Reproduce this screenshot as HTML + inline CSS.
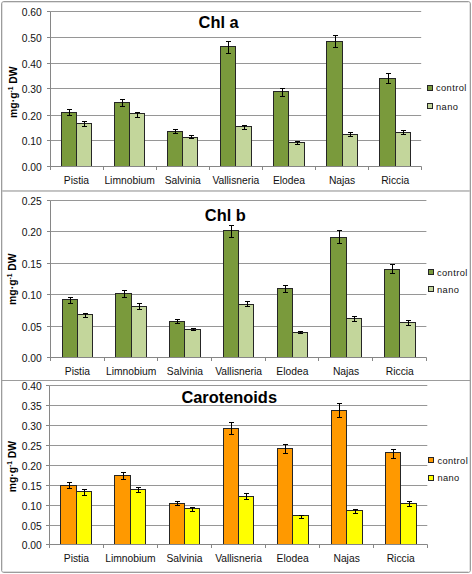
<!DOCTYPE html>
<html><head><meta charset="utf-8"><title>Chart</title>
<style>
html,body{margin:0;padding:0;background:#fff;}
body{width:472px;height:574px;overflow:hidden;}
svg{display:block;font-family:'Liberation Sans', sans-serif;}
</style></head>
<body>
<svg width="472" height="574" viewBox="0 0 472 574">
<rect x="0" y="0" width="472" height="574" fill="#fff"/>
<path d="M1.5 190V4Q1.5 1.5 4 1.5H468Q470.5 1.5 470.5 4V190" fill="none" stroke="#9C9C9C" stroke-width="1"/><path d="M1.5 190V570M470.5 190V570" fill="none" stroke="#9C9C9C" stroke-width="1"/><path d="M1.5 570Q1.5 572.5 4 572.5H468Q470.5 572.5 470.5 570" fill="none" stroke="#9C9C9C" stroke-width="1"/><path d="M2.5 3V570M3 2.5H468M469.5 3V570" fill="none" stroke="#E2E2E2" stroke-width="1"/><line x1="3" y1="571.5" x2="468" y2="571.5" stroke="#DDDDDD" stroke-width="1"/><line x1="2" y1="190.5" x2="470" y2="190.5" stroke="#C2C2C2" stroke-width="1"/><line x1="2" y1="191.5" x2="470" y2="191.5" stroke="#C6C6C6" stroke-width="1"/><line x1="2" y1="380.5" x2="470" y2="380.5" stroke="#9C9C9C" stroke-width="1"/>
<line x1="50.5" y1="11.5" x2="421.2" y2="11.5" stroke="#969696" stroke-width="1"/>
<line x1="47" y1="11.5" x2="50.5" y2="11.5" stroke="#868686" stroke-width="1"/>
<text x="41.8" y="16.2" text-anchor="end" font-size="10.3" fill="#111">0.60</text>
<line x1="50.5" y1="37.5" x2="421.2" y2="37.5" stroke="#969696" stroke-width="1"/>
<line x1="47" y1="37.5" x2="50.5" y2="37.5" stroke="#868686" stroke-width="1"/>
<text x="41.8" y="42.2" text-anchor="end" font-size="10.3" fill="#111">0.50</text>
<line x1="50.5" y1="63.5" x2="421.2" y2="63.5" stroke="#969696" stroke-width="1"/>
<line x1="47" y1="63.5" x2="50.5" y2="63.5" stroke="#868686" stroke-width="1"/>
<text x="41.8" y="68.2" text-anchor="end" font-size="10.3" fill="#111">0.40</text>
<line x1="50.5" y1="88.5" x2="421.2" y2="88.5" stroke="#969696" stroke-width="1"/>
<line x1="47" y1="88.5" x2="50.5" y2="88.5" stroke="#868686" stroke-width="1"/>
<text x="41.8" y="93.2" text-anchor="end" font-size="10.3" fill="#111">0.30</text>
<line x1="50.5" y1="115.5" x2="421.2" y2="115.5" stroke="#969696" stroke-width="1"/>
<line x1="47" y1="115.5" x2="50.5" y2="115.5" stroke="#868686" stroke-width="1"/>
<text x="41.8" y="120.2" text-anchor="end" font-size="10.3" fill="#111">0.20</text>
<line x1="50.5" y1="140.5" x2="421.2" y2="140.5" stroke="#969696" stroke-width="1"/>
<line x1="47" y1="140.5" x2="50.5" y2="140.5" stroke="#868686" stroke-width="1"/>
<text x="41.8" y="145.2" text-anchor="end" font-size="10.3" fill="#111">0.10</text>
<line x1="47" y1="166.5" x2="50.5" y2="166.5" stroke="#868686" stroke-width="1"/>
<text x="41.8" y="171.2" text-anchor="end" font-size="10.3" fill="#111">0.00</text>
<rect x="61.5" y="112.5" width="15" height="54" fill="#7A9A3C" stroke="#262626" stroke-width="1"/>
<rect x="76.5" y="123.5" width="15" height="43" fill="#C3D69B" stroke="#262626" stroke-width="1"/>
<path d="M69.5 109.5V115.5M67 109.5H72M67 115.5H72" stroke="#000" stroke-width="1" fill="none"/>
<path d="M84.5 121.5V126.5M82 121.5H87M82 126.5H87" stroke="#000" stroke-width="1" fill="none"/>
<text x="76.45" y="183.9" text-anchor="middle" font-size="10.3" fill="#111">Pistia</text>
<rect x="114.5" y="102.5" width="15" height="64" fill="#7A9A3C" stroke="#262626" stroke-width="1"/>
<rect x="129.5" y="113.5" width="15" height="53" fill="#C3D69B" stroke="#262626" stroke-width="1"/>
<path d="M122.5 99.5V106.5M120 99.5H125M120 106.5H125" stroke="#000" stroke-width="1" fill="none"/>
<path d="M137.5 112.5V117.5M135 112.5H140M135 117.5H140" stroke="#000" stroke-width="1" fill="none"/>
<text x="129.57" y="183.9" text-anchor="middle" font-size="10.3" fill="#111">Limnobium</text>
<rect x="167.5" y="131.5" width="15" height="35" fill="#7A9A3C" stroke="#262626" stroke-width="1"/>
<rect x="182.5" y="137.5" width="15" height="29" fill="#C3D69B" stroke="#262626" stroke-width="1"/>
<path d="M175.5 129.5V133.5M173 129.5H178M173 133.5H178" stroke="#000" stroke-width="1" fill="none"/>
<path d="M191.5 135.5V138.5M189 135.5H194M189 138.5H194" stroke="#000" stroke-width="1" fill="none"/>
<text x="182.7" y="183.9" text-anchor="middle" font-size="10.3" fill="#111">Salvinia</text>
<rect x="220.5" y="46.5" width="15" height="120" fill="#7A9A3C" stroke="#262626" stroke-width="1"/>
<rect x="235.5" y="126.5" width="16" height="40" fill="#C3D69B" stroke="#262626" stroke-width="1"/>
<path d="M228.5 41.5V53.5M226 41.5H231M226 53.5H231" stroke="#000" stroke-width="1" fill="none"/>
<path d="M244.5 125.5V129.5M242 125.5H247M242 129.5H247" stroke="#000" stroke-width="1" fill="none"/>
<text x="235.82" y="183.9" text-anchor="middle" font-size="10.3" fill="#111">Vallisneria</text>
<rect x="273.5" y="91.5" width="15" height="75" fill="#7A9A3C" stroke="#262626" stroke-width="1"/>
<rect x="288.5" y="142.5" width="16" height="24" fill="#C3D69B" stroke="#262626" stroke-width="1"/>
<path d="M282.5 88.5V96.5M280 88.5H285M280 96.5H285" stroke="#000" stroke-width="1" fill="none"/>
<path d="M297.5 141.5V144.5M295 141.5H300M295 144.5H300" stroke="#000" stroke-width="1" fill="none"/>
<text x="288.95" y="183.9" text-anchor="middle" font-size="10.3" fill="#111">Elodea</text>
<rect x="326.5" y="41.5" width="16" height="125" fill="#7A9A3C" stroke="#262626" stroke-width="1"/>
<rect x="342.5" y="134.5" width="15" height="32" fill="#C3D69B" stroke="#262626" stroke-width="1"/>
<path d="M335.5 35.5V47.5M333 35.5H338M333 47.5H338" stroke="#000" stroke-width="1" fill="none"/>
<path d="M350.5 132.5V136.5M348 132.5H353M348 136.5H353" stroke="#000" stroke-width="1" fill="none"/>
<text x="342.08" y="183.9" text-anchor="middle" font-size="10.3" fill="#111">Najas</text>
<rect x="379.5" y="78.5" width="16" height="88" fill="#7A9A3C" stroke="#262626" stroke-width="1"/>
<rect x="395.5" y="132.5" width="15" height="34" fill="#C3D69B" stroke="#262626" stroke-width="1"/>
<path d="M388.5 73.5V83.5M386 73.5H391M386 83.5H391" stroke="#000" stroke-width="1" fill="none"/>
<path d="M403.5 130.5V134.5M401 130.5H406M401 134.5H406" stroke="#000" stroke-width="1" fill="none"/>
<text x="395.2" y="183.9" text-anchor="middle" font-size="10.3" fill="#111">Riccia</text>
<line x1="50.5" y1="11.5" x2="50.5" y2="170" stroke="#868686" stroke-width="1"/>
<line x1="50.5" y1="166.5" x2="421.5" y2="166.5" stroke="#868686" stroke-width="1"/>
<line x1="103.5" y1="166.5" x2="103.5" y2="170" stroke="#868686" stroke-width="1"/>
<line x1="156.5" y1="166.5" x2="156.5" y2="170" stroke="#868686" stroke-width="1"/>
<line x1="209.5" y1="166.5" x2="209.5" y2="170" stroke="#868686" stroke-width="1"/>
<line x1="262.5" y1="166.5" x2="262.5" y2="170" stroke="#868686" stroke-width="1"/>
<line x1="315.5" y1="166.5" x2="315.5" y2="170" stroke="#868686" stroke-width="1"/>
<line x1="368.5" y1="166.5" x2="368.5" y2="170" stroke="#868686" stroke-width="1"/>
<line x1="421.5" y1="166.5" x2="421.5" y2="170" stroke="#868686" stroke-width="1"/>
<text x="218.6" y="28" text-anchor="middle" font-size="16.4" font-weight="bold" fill="#000">Chl a</text>
<text transform="translate(17,92.2) rotate(-90)" text-anchor="middle" font-size="10.4" font-weight="bold" fill="#000">mg·g<tspan font-size="6.5" dy="-3.6">-1</tspan><tspan dy="3.6"> DW</tspan></text>
<rect x="427.5" y="85.5" width="5" height="5" fill="#7A9A3C" stroke="#262626" stroke-width="1"/>
<text x="436" y="91.3" font-size="9.3" letter-spacing="0.4" fill="#111">control</text>
<rect x="427.5" y="103.5" width="5" height="5" fill="#C3D69B" stroke="#262626" stroke-width="1"/>
<text x="436" y="109.6" font-size="9.3" letter-spacing="0.4" fill="#111">nano</text>
<line x1="50.5" y1="200.5" x2="426.4" y2="200.5" stroke="#969696" stroke-width="1"/>
<line x1="47" y1="200.5" x2="50.5" y2="200.5" stroke="#868686" stroke-width="1"/>
<text x="41.8" y="205.2" text-anchor="end" font-size="10.3" fill="#111">0.25</text>
<line x1="50.5" y1="231.5" x2="426.4" y2="231.5" stroke="#969696" stroke-width="1"/>
<line x1="47" y1="231.5" x2="50.5" y2="231.5" stroke="#868686" stroke-width="1"/>
<text x="41.8" y="236.2" text-anchor="end" font-size="10.3" fill="#111">0.20</text>
<line x1="50.5" y1="263.5" x2="426.4" y2="263.5" stroke="#969696" stroke-width="1"/>
<line x1="47" y1="263.5" x2="50.5" y2="263.5" stroke="#868686" stroke-width="1"/>
<text x="41.8" y="268.2" text-anchor="end" font-size="10.3" fill="#111">0.15</text>
<line x1="50.5" y1="294.5" x2="426.4" y2="294.5" stroke="#969696" stroke-width="1"/>
<line x1="47" y1="294.5" x2="50.5" y2="294.5" stroke="#868686" stroke-width="1"/>
<text x="41.8" y="299.2" text-anchor="end" font-size="10.3" fill="#111">0.10</text>
<line x1="50.5" y1="326.5" x2="426.4" y2="326.5" stroke="#969696" stroke-width="1"/>
<line x1="47" y1="326.5" x2="50.5" y2="326.5" stroke="#868686" stroke-width="1"/>
<text x="41.8" y="331.2" text-anchor="end" font-size="10.3" fill="#111">0.05</text>
<line x1="47" y1="357.5" x2="50.5" y2="357.5" stroke="#868686" stroke-width="1"/>
<text x="41.8" y="362.2" text-anchor="end" font-size="10.3" fill="#111">0.00</text>
<rect x="62.5" y="299.5" width="15" height="58" fill="#7A9A3C" stroke="#262626" stroke-width="1"/>
<rect x="77.5" y="314.5" width="15" height="43" fill="#C3D69B" stroke="#262626" stroke-width="1"/>
<path d="M70.5 297.5V303.5M68 297.5H73M68 303.5H73" stroke="#000" stroke-width="1" fill="none"/>
<path d="M85.5 313.5V317.5M83 313.5H88M83 317.5H88" stroke="#000" stroke-width="1" fill="none"/>
<text x="77.4" y="375.3" text-anchor="middle" font-size="10.3" fill="#111">Pistia</text>
<rect x="115.5" y="293.5" width="16" height="64" fill="#7A9A3C" stroke="#262626" stroke-width="1"/>
<rect x="131.5" y="306.5" width="15" height="51" fill="#C3D69B" stroke="#262626" stroke-width="1"/>
<path d="M124.5 290.5V297.5M122 290.5H127M122 297.5H127" stroke="#000" stroke-width="1" fill="none"/>
<path d="M139.5 303.5V309.5M137 303.5H142M137 309.5H142" stroke="#000" stroke-width="1" fill="none"/>
<text x="131.14" y="375.3" text-anchor="middle" font-size="10.3" fill="#111">Limnobium</text>
<rect x="169.5" y="321.5" width="15" height="36" fill="#7A9A3C" stroke="#262626" stroke-width="1"/>
<rect x="184.5" y="329.5" width="16" height="28" fill="#C3D69B" stroke="#262626" stroke-width="1"/>
<path d="M177.5 319.5V323.5M175 319.5H180M175 323.5H180" stroke="#000" stroke-width="1" fill="none"/>
<path d="M193.5 328.5V330.5M191 328.5H196M191 330.5H196" stroke="#000" stroke-width="1" fill="none"/>
<text x="184.88" y="375.3" text-anchor="middle" font-size="10.3" fill="#111">Salvinia</text>
<rect x="223.5" y="230.5" width="15" height="127" fill="#7A9A3C" stroke="#262626" stroke-width="1"/>
<rect x="238.5" y="304.5" width="15" height="53" fill="#C3D69B" stroke="#262626" stroke-width="1"/>
<path d="M231.5 225.5V237.5M229 225.5H234M229 237.5H234" stroke="#000" stroke-width="1" fill="none"/>
<path d="M247.5 301.5V306.5M245 301.5H250M245 306.5H250" stroke="#000" stroke-width="1" fill="none"/>
<text x="238.62" y="375.3" text-anchor="middle" font-size="10.3" fill="#111">Vallisneria</text>
<rect x="277.5" y="288.5" width="15" height="69" fill="#7A9A3C" stroke="#262626" stroke-width="1"/>
<rect x="292.5" y="332.5" width="15" height="25" fill="#C3D69B" stroke="#262626" stroke-width="1"/>
<path d="M285.5 285.5V292.5M283 285.5H288M283 292.5H288" stroke="#000" stroke-width="1" fill="none"/>
<path d="M300.5 331.5V333.5M298 331.5H303M298 333.5H303" stroke="#000" stroke-width="1" fill="none"/>
<text x="292.36" y="375.3" text-anchor="middle" font-size="10.3" fill="#111">Elodea</text>
<rect x="330.5" y="237.5" width="16" height="120" fill="#7A9A3C" stroke="#262626" stroke-width="1"/>
<rect x="346.5" y="318.5" width="15" height="39" fill="#C3D69B" stroke="#262626" stroke-width="1"/>
<path d="M339.5 230.5V243.5M337 230.5H342M337 243.5H342" stroke="#000" stroke-width="1" fill="none"/>
<path d="M354.5 316.5V321.5M352 316.5H357M352 321.5H357" stroke="#000" stroke-width="1" fill="none"/>
<text x="346.1" y="375.3" text-anchor="middle" font-size="10.3" fill="#111">Najas</text>
<rect x="384.5" y="269.5" width="15" height="88" fill="#7A9A3C" stroke="#262626" stroke-width="1"/>
<rect x="399.5" y="322.5" width="16" height="35" fill="#C3D69B" stroke="#262626" stroke-width="1"/>
<path d="M392.5 264.5V273.5M390 264.5H395M390 273.5H395" stroke="#000" stroke-width="1" fill="none"/>
<path d="M408.5 320.5V325.5M406 320.5H411M406 325.5H411" stroke="#000" stroke-width="1" fill="none"/>
<text x="399.84" y="375.3" text-anchor="middle" font-size="10.3" fill="#111">Riccia</text>
<line x1="50.5" y1="200.5" x2="50.5" y2="361" stroke="#868686" stroke-width="1"/>
<line x1="50.5" y1="357.5" x2="426.5" y2="357.5" stroke="#868686" stroke-width="1"/>
<line x1="104.5" y1="357.5" x2="104.5" y2="361" stroke="#868686" stroke-width="1"/>
<line x1="157.5" y1="357.5" x2="157.5" y2="361" stroke="#868686" stroke-width="1"/>
<line x1="211.5" y1="357.5" x2="211.5" y2="361" stroke="#868686" stroke-width="1"/>
<line x1="265.5" y1="357.5" x2="265.5" y2="361" stroke="#868686" stroke-width="1"/>
<line x1="318.5" y1="357.5" x2="318.5" y2="361" stroke="#868686" stroke-width="1"/>
<line x1="372.5" y1="357.5" x2="372.5" y2="361" stroke="#868686" stroke-width="1"/>
<line x1="426.5" y1="357.5" x2="426.5" y2="361" stroke="#868686" stroke-width="1"/>
<text x="225.3" y="220.6" text-anchor="middle" font-size="16.4" font-weight="bold" fill="#000">Chl b</text>
<text transform="translate(15.8,279.2) rotate(-90)" text-anchor="middle" font-size="10.4" font-weight="bold" fill="#000">mg·g<tspan font-size="6.5" dy="-3.6">-1</tspan><tspan dy="3.6"> DW</tspan></text>
<rect x="428.5" y="269.5" width="5" height="5" fill="#7A9A3C" stroke="#262626" stroke-width="1"/>
<text x="437" y="275.9" font-size="9.3" letter-spacing="0.4" fill="#111">control</text>
<rect x="428.5" y="286.5" width="5" height="5" fill="#C3D69B" stroke="#262626" stroke-width="1"/>
<text x="437" y="292.8" font-size="9.3" letter-spacing="0.4" fill="#111">nano</text>
<line x1="49.5" y1="385.5" x2="427.3" y2="385.5" stroke="#969696" stroke-width="1"/>
<line x1="46" y1="385.5" x2="49.5" y2="385.5" stroke="#868686" stroke-width="1"/>
<text x="41.8" y="390.2" text-anchor="end" font-size="10.3" fill="#111">0.40</text>
<line x1="49.5" y1="405.5" x2="427.3" y2="405.5" stroke="#969696" stroke-width="1"/>
<line x1="46" y1="405.5" x2="49.5" y2="405.5" stroke="#868686" stroke-width="1"/>
<text x="41.8" y="410.2" text-anchor="end" font-size="10.3" fill="#111">0.35</text>
<line x1="49.5" y1="425.5" x2="427.3" y2="425.5" stroke="#969696" stroke-width="1"/>
<line x1="46" y1="425.5" x2="49.5" y2="425.5" stroke="#868686" stroke-width="1"/>
<text x="41.8" y="430.2" text-anchor="end" font-size="10.3" fill="#111">0.30</text>
<line x1="49.5" y1="445.5" x2="427.3" y2="445.5" stroke="#969696" stroke-width="1"/>
<line x1="46" y1="445.5" x2="49.5" y2="445.5" stroke="#868686" stroke-width="1"/>
<text x="41.8" y="450.2" text-anchor="end" font-size="10.3" fill="#111">0.25</text>
<line x1="49.5" y1="465.5" x2="427.3" y2="465.5" stroke="#969696" stroke-width="1"/>
<line x1="46" y1="465.5" x2="49.5" y2="465.5" stroke="#868686" stroke-width="1"/>
<text x="41.8" y="470.2" text-anchor="end" font-size="10.3" fill="#111">0.20</text>
<line x1="49.5" y1="485.5" x2="427.3" y2="485.5" stroke="#969696" stroke-width="1"/>
<line x1="46" y1="485.5" x2="49.5" y2="485.5" stroke="#868686" stroke-width="1"/>
<text x="41.8" y="490.2" text-anchor="end" font-size="10.3" fill="#111">0.15</text>
<line x1="49.5" y1="505.5" x2="427.3" y2="505.5" stroke="#969696" stroke-width="1"/>
<line x1="46" y1="505.5" x2="49.5" y2="505.5" stroke="#868686" stroke-width="1"/>
<text x="41.8" y="510.2" text-anchor="end" font-size="10.3" fill="#111">0.10</text>
<line x1="49.5" y1="525.5" x2="427.3" y2="525.5" stroke="#969696" stroke-width="1"/>
<line x1="46" y1="525.5" x2="49.5" y2="525.5" stroke="#868686" stroke-width="1"/>
<text x="41.8" y="530.2" text-anchor="end" font-size="10.3" fill="#111">0.05</text>
<line x1="46" y1="544.5" x2="49.5" y2="544.5" stroke="#868686" stroke-width="1"/>
<text x="41.8" y="549.2" text-anchor="end" font-size="10.3" fill="#111">0.00</text>
<rect x="60.5" y="485.5" width="16" height="59" fill="#FF9900" stroke="#262626" stroke-width="1"/>
<rect x="76.5" y="491.5" width="15" height="53" fill="#FFFF00" stroke="#262626" stroke-width="1"/>
<path d="M69.5 482.5V488.5M67 482.5H72M67 488.5H72" stroke="#000" stroke-width="1" fill="none"/>
<path d="M84.5 489.5V495.5M82 489.5H87M82 495.5H87" stroke="#000" stroke-width="1" fill="none"/>
<text x="76.38" y="562.1" text-anchor="middle" font-size="10.3" fill="#111">Pistia</text>
<rect x="114.5" y="475.5" width="16" height="69" fill="#FF9900" stroke="#262626" stroke-width="1"/>
<rect x="130.5" y="489.5" width="15" height="55" fill="#FFFF00" stroke="#262626" stroke-width="1"/>
<path d="M123.5 472.5V479.5M121 472.5H126M121 479.5H126" stroke="#000" stroke-width="1" fill="none"/>
<path d="M138.5 487.5V492.5M136 487.5H141M136 492.5H141" stroke="#000" stroke-width="1" fill="none"/>
<text x="130.43" y="562.1" text-anchor="middle" font-size="10.3" fill="#111">Limnobium</text>
<rect x="169.5" y="503.5" width="15" height="41" fill="#FF9900" stroke="#262626" stroke-width="1"/>
<rect x="184.5" y="508.5" width="15" height="36" fill="#FFFF00" stroke="#262626" stroke-width="1"/>
<path d="M177.5 501.5V505.5M175 501.5H180M175 505.5H180" stroke="#000" stroke-width="1" fill="none"/>
<path d="M192.5 507.5V511.5M190 507.5H195M190 511.5H195" stroke="#000" stroke-width="1" fill="none"/>
<text x="184.48" y="562.1" text-anchor="middle" font-size="10.3" fill="#111">Salvinia</text>
<rect x="223.5" y="428.5" width="15" height="116" fill="#FF9900" stroke="#262626" stroke-width="1"/>
<rect x="238.5" y="496.5" width="15" height="48" fill="#FFFF00" stroke="#262626" stroke-width="1"/>
<path d="M231.5 422.5V434.5M229 422.5H234M229 434.5H234" stroke="#000" stroke-width="1" fill="none"/>
<path d="M246.5 493.5V499.5M244 493.5H249M244 499.5H249" stroke="#000" stroke-width="1" fill="none"/>
<text x="238.53" y="562.1" text-anchor="middle" font-size="10.3" fill="#111">Vallisneria</text>
<rect x="277.5" y="448.5" width="15" height="96" fill="#FF9900" stroke="#262626" stroke-width="1"/>
<rect x="292.5" y="515.5" width="16" height="29" fill="#FFFF00" stroke="#262626" stroke-width="1"/>
<path d="M285.5 444.5V453.5M283 444.5H288M283 453.5H288" stroke="#000" stroke-width="1" fill="none"/>
<path d="M301.5 515.5V518.5M299 515.5H304M299 518.5H304" stroke="#000" stroke-width="1" fill="none"/>
<text x="292.58" y="562.1" text-anchor="middle" font-size="10.3" fill="#111">Elodea</text>
<rect x="331.5" y="410.5" width="15" height="134" fill="#FF9900" stroke="#262626" stroke-width="1"/>
<rect x="346.5" y="510.5" width="16" height="34" fill="#FFFF00" stroke="#262626" stroke-width="1"/>
<path d="M339.5 403.5V417.5M337 403.5H342M337 417.5H342" stroke="#000" stroke-width="1" fill="none"/>
<path d="M355.5 509.5V513.5M353 509.5H358M353 513.5H358" stroke="#000" stroke-width="1" fill="none"/>
<text x="346.63" y="562.1" text-anchor="middle" font-size="10.3" fill="#111">Najas</text>
<rect x="385.5" y="452.5" width="15" height="92" fill="#FF9900" stroke="#262626" stroke-width="1"/>
<rect x="400.5" y="503.5" width="16" height="41" fill="#FFFF00" stroke="#262626" stroke-width="1"/>
<path d="M393.5 449.5V458.5M391 449.5H396M391 458.5H396" stroke="#000" stroke-width="1" fill="none"/>
<path d="M409.5 501.5V506.5M407 501.5H412M407 506.5H412" stroke="#000" stroke-width="1" fill="none"/>
<text x="400.68" y="562.1" text-anchor="middle" font-size="10.3" fill="#111">Riccia</text>
<line x1="49.5" y1="385.5" x2="49.5" y2="548" stroke="#868686" stroke-width="1"/>
<line x1="49.5" y1="544.5" x2="427.5" y2="544.5" stroke="#868686" stroke-width="1"/>
<line x1="103.5" y1="544.5" x2="103.5" y2="548" stroke="#868686" stroke-width="1"/>
<line x1="157.5" y1="544.5" x2="157.5" y2="548" stroke="#868686" stroke-width="1"/>
<line x1="211.5" y1="544.5" x2="211.5" y2="548" stroke="#868686" stroke-width="1"/>
<line x1="265.5" y1="544.5" x2="265.5" y2="548" stroke="#868686" stroke-width="1"/>
<line x1="319.5" y1="544.5" x2="319.5" y2="548" stroke="#868686" stroke-width="1"/>
<line x1="373.5" y1="544.5" x2="373.5" y2="548" stroke="#868686" stroke-width="1"/>
<line x1="427.5" y1="544.5" x2="427.5" y2="548" stroke="#868686" stroke-width="1"/>
<text x="229.2" y="402.5" text-anchor="middle" font-size="16.4" font-weight="bold" fill="#000">Carotenoids</text>
<text transform="translate(15.8,466.6) rotate(-90)" text-anchor="middle" font-size="10.4" font-weight="bold" fill="#000">mg·g<tspan font-size="6.5" dy="-3.6">-1</tspan><tspan dy="3.6"> DW</tspan></text>
<rect x="428.5" y="457.5" width="5" height="5" fill="#FF9900" stroke="#262626" stroke-width="1"/>
<text x="437.4" y="463.5" font-size="9.3" letter-spacing="0.4" fill="#111">control</text>
<rect x="428.5" y="475.5" width="5" height="5" fill="#FFFF00" stroke="#262626" stroke-width="1"/>
<text x="437.4" y="481.4" font-size="9.3" letter-spacing="0.4" fill="#111">nano</text>
</svg>
</body></html>
